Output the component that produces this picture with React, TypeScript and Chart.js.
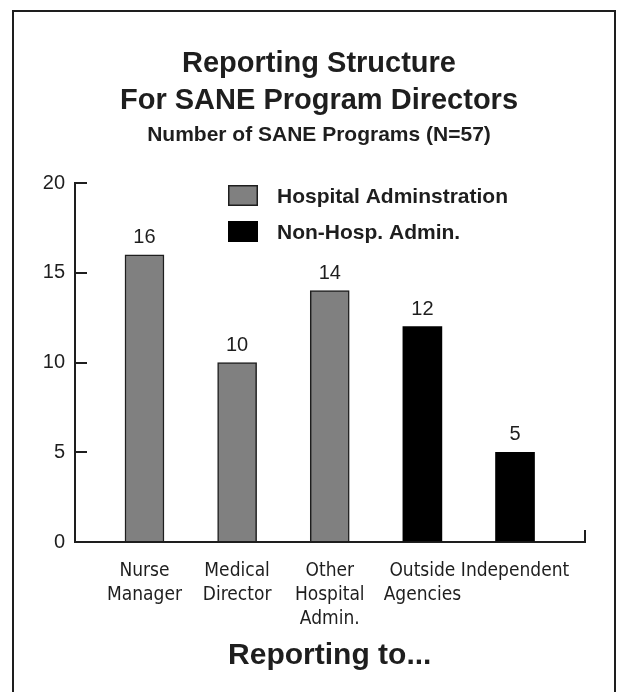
import { useEffect, useRef } from 'react';
import { Chart, registerables } from 'chart.js';

Chart.register(...registerables);

const categories: string[][] = [
  ['Nurse', 'Manager'],
  ['Medical', 'Director'],
  ['Other', 'Hospital', 'Admin.'],
  ['Outside', 'Agencies'],
  ['Independent'],
];
const hospitalValues: (number | null)[] = [16, 10, 14, null, null];
const nonHospValues: (number | null)[] = [null, null, null, 12, 5];
const seriesLabels = ['Hospital Adminstration', 'Non-Hosp. Admin.'];
const yTicks = [0, 5, 10, 15, 20];
const titleLines = ['Reporting Structure', 'For SANE Program Directors'];
const subtitleText = 'Number of SANE Programs (N=57)';
const xAxisTitle = 'Reporting to...';

const SANS = "'Liberation Sans', Arial, Helvetica, sans-serif";
const NARROW = "'Liberation Sans Narrow', 'DejaVu Sans Condensed', 'Liberation Sans', sans-serif";
const INK = '#1e1e1e';
const X_MIN = -0.75;
const X_MAX = 4.75;

const toPoints = (vals: (number | null)[]) =>
  vals
    .map((v, i) => (v === null ? null : { x: i, y: v }))
    .filter((p) => p !== null) as { x: number; y: number }[];

const headingPlugin = {
  id: 'heading',
  afterDraw(chart: any) {
    const { ctx } = chart;
    const cx = 305;
    ctx.save();
    ctx.fillStyle = INK;
    ctx.textAlign = 'center';
    ctx.textBaseline = 'middle';
    ctx.font = `bold 29px ${SANS}`;
    titleLines.forEach((line, i) => ctx.fillText(line, cx, 52 + i * 37));
    ctx.font = `bold 21px ${SANS}`;
    ctx.fillText(subtitleText, cx, 123.5);
    ctx.restore();
  },
};

const valueLabelPlugin = {
  id: 'valueLabels',
  afterDatasetsDraw(chart: any) {
    const { ctx } = chart;
    ctx.save();
    ctx.font = `20px ${SANS}`;
    ctx.fillStyle = INK;
    ctx.textAlign = 'center';
    ctx.textBaseline = 'alphabetic';
    chart.data.datasets.forEach((ds: any, di: number) => {
      const meta = chart.getDatasetMeta(di);
      meta.data.forEach((bar: any, i: number) => {
        const v = ds.data[i].y;
        ctx.fillText(String(v), bar.x, bar.y - 12);
      });
    });
    ctx.restore();
  },
};

const boxLegendPlugin = {
  id: 'boxLegend',
  afterDraw(chart: any) {
    const { ctx, chartArea } = chart;
    ctx.save();
    ctx.font = `bold 21px ${SANS}`;
    ctx.textBaseline = 'middle';
    ctx.textAlign = 'left';
    chart.data.datasets.forEach((ds: any, i: number) => {
      const bx = chartArea.left + 153;
      const by = chartArea.top + 2 + i * 36;
      ctx.fillStyle = ds.backgroundColor;
      ctx.fillRect(bx, by, 30, 21);
      if (ds.borderWidth) {
        ctx.lineWidth = 1.5;
        ctx.strokeStyle = ds.borderColor;
        ctx.strokeRect(bx + 0.75, by + 0.75, 28.5, 19.5);
      }
      ctx.fillStyle = INK;
      ctx.fillText(ds.label, chartArea.left + 202, by + 12);
    });
    ctx.restore();
  },
};

export default function App() {
  const canvasRef = useRef<HTMLCanvasElement | null>(null);

  useEffect(() => {
    if (!canvasRef.current) return;
    const chart = new Chart(canvasRef.current, {
      type: 'bar',
      data: {
        datasets: [
          {
            label: seriesLabels[0],
            data: toPoints(hospitalValues),
            backgroundColor: '#808080',
            borderColor: INK,
            borderWidth: 1.5,
            barThickness: 39,
            grouped: false,
          },
          {
            label: seriesLabels[1],
            data: toPoints(nonHospValues),
            backgroundColor: '#000000',
            borderColor: '#000000',
            borderWidth: 0,
            barThickness: 39,
            grouped: false,
          },
        ],
      } as any,
      options: {
        animation: false,
        responsive: false,
        layout: { padding: { left: 0, right: 25, top: 171, bottom: 0 } },
        plugins: {
          legend: { display: false },
          tooltip: { enabled: false },
          title: { display: false },
        },
        scales: {
          x: {
            type: 'linear',
            min: X_MIN,
            max: X_MAX,
            offset: false,
            afterBuildTicks: (scale: any) => {
              scale.ticks = [...categories.map((_, i) => ({ value: i })), { value: X_MAX }];
            },
            afterFit: (scale: any) => {
              scale.height = 150;
            },
            ticks: {
              autoSkip: false,
              maxRotation: 0,
              padding: 29.5,
              color: INK,
              font: { family: NARROW, size: 19, lineHeight: 1.263 },
              callback: (value: any) => {
                const idx = Number(value);
                return Number.isInteger(idx) && categories[idx] ? categories[idx] : '';
              },
            },
            grid: {
              display: true,
              offset: false,
              drawOnChartArea: false,
              drawTicks: true,
              tickLength: -12,
              lineWidth: 2,
              color: (ctx: any) => (ctx.tick && ctx.tick.value === X_MAX ? INK : 'rgba(0,0,0,0)'),
            },
            border: { display: true, color: INK, width: 2 },
            title: {
              display: true,
              text: xAxisTitle,
              color: INK,
              font: { family: SANS, size: 30, weight: 'bold', lineHeight: 1.2 },
              padding: { top: 0, bottom: 18 },
            },
          },
          y: {
            min: 0,
            max: 20,
            afterBuildTicks: (scale: any) => {
              scale.ticks = yTicks.map((v) => ({ value: v }));
            },
            afterFit: (scale: any) => {
              scale.width = 61;
            },
            ticks: {
              padding: 22,
              color: INK,
              font: { family: SANS, size: 20 },
            },
            grid: {
              display: true,
              drawOnChartArea: false,
              drawTicks: true,
              tickLength: -12,
              lineWidth: 2,
              color: INK,
            },
            border: { display: true, color: INK, width: 2 },
          },
        },
      } as any,
      plugins: [headingPlugin, valueLabelPlugin, boxLegendPlugin],
    });
    return () => chart.destroy();
  }, []);

  return (
    <div
      style={{
        position: 'fixed',
        left: 12,
        top: 10,
        width: 604,
        height: 700,
        boxSizing: 'border-box',
        border: `2px solid ${INK}`,
        background: '#fff',
      }}
    >
      <canvas ref={canvasRef} width={600} height={680} style={{ display: 'block' }} />
    </div>
  );
}
